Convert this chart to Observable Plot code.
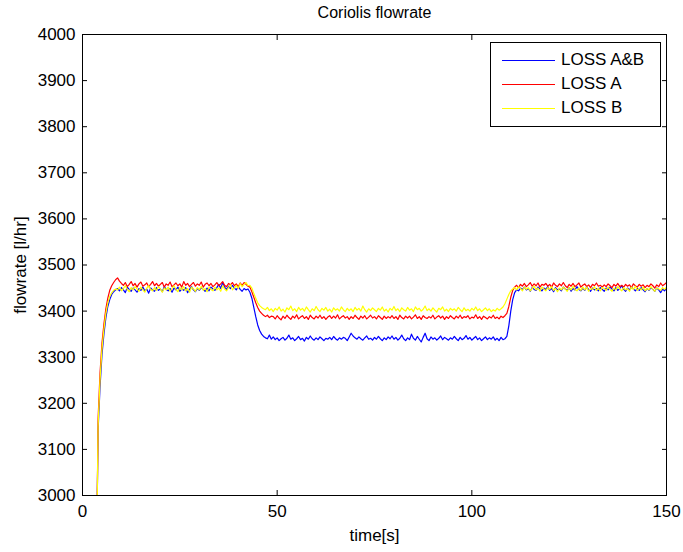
<!DOCTYPE html>
<html>
<head>
<meta charset="utf-8">
<script src="https://cdn.jsdelivr.net/npm/d3@7"></script>
<script src="https://cdn.jsdelivr.net/npm/@observablehq/plot@0.6"></script>
<style>
  html, body { margin: 0; padding: 0; background: #fff; }
  #wrap { position: relative; width: 683px; height: 552px; font-family: "Liberation Sans", Arial, sans-serif; }
  #legend { position: absolute; left: 490px; top: 42px; width: 169px; height: 83px; border: 1px solid #000; background: #fff; font-size: 17px; }
  .row { position: absolute; left: 0; height: 20px; }
  .sw { position: absolute; left: 11px; width: 53px; height: 0; border-top: 1px solid; top: 10px; }
  .lb { position: absolute; left: 70px; top: 0; line-height: 20px; white-space: nowrap; }
</style>
</head>
<body>
<div id="wrap"><div id="chart"></div>
<div id="legend"></div>
</div>
<script>
const titleText = "Coriolis flowrate";
const xLabel = "time[s]";
const yLabel = "flowrate [l/hr]";
const xTicks = [0, 50, 100, 150];
const yTicks = [3000, 3100, 3200, 3300, 3400, 3500, 3600, 3700, 3800, 3900, 4000];
const seriesNames = ["LOSS A&B", "LOSS A", "LOSS B"];
const seriesColors = ["#0000ff", "#ff0000", "#ffff00"];

// sample times: first sample at 3.8 s, then every 0.5 s from 4 s to 150 s
const times = [3.8, ...d3.range(4, 150.001, 0.5)];

const lossAB = [3000,
3140,3235,3305,3350,3385,3410,3425,3436,3442,3446,
3449,3444,3451,3446,3440,3452,3447,3443,3450,3446,
3441,3449,3445,3452,3444,3448,3439,3450,3446,3443,
3451,3445,3448,3442,3453,3447,3444,3449,3441,3450,
3446,3452,3443,3448,3445,3451,3440,3447,3453,3446,
3442,3449,3445,3451,3447,3443,3450,3444,3452,3448,
3445,3451,3458,3449,3462,3452,3447,3454,3449,3456,
3450,3446,3453,3447,3443,3449,3446,3448,3441,3428,
3408,3388,3370,3358,3350,3345,3342,3340,3348,3339,
3344,3338,3342,3336,3340,3343,3337,3341,3348,3339,
3342,3336,3340,3345,3338,3341,3335,3343,3339,3346,
3340,3337,3342,3338,3344,3340,3336,3341,3339,3343,
3338,3345,3340,3337,3342,3339,3343,3341,3336,3344,
3352,3346,3342,3339,3344,3340,3337,3342,3346,3339,
3341,3337,3343,3339,3345,3340,3336,3342,3338,3344,
3340,3346,3339,3343,3337,3341,3348,3340,3336,3342,
3338,3350,3341,3337,3345,3339,3333,3343,3352,3340,
3336,3344,3339,3342,3337,3341,3346,3338,3343,3340,
3337,3342,3339,3345,3340,3336,3343,3338,3341,3347,
3339,3343,3337,3341,3345,3338,3342,3336,3340,3344,
3338,3342,3339,3344,3337,3341,3336,3343,3338,3340,
3345,3368,3400,3425,3440,3446,3444,3450,3447,3452,
3446,3449,3443,3451,3447,3445,3452,3448,3444,3450,
3447,3453,3445,3449,3442,3451,3446,3448,3444,3452,
3448,3445,3451,3443,3449,3446,3453,3447,3444,3450,
3445,3452,3447,3443,3450,3446,3449,3444,3451,3447,
3443,3450,3446,3452,3448,3444,3451,3445,3449,3455,
3447,3443,3450,3446,3452,3448,3444,3449,3445,3451,
3446,3442,3449,3445,3451,3447,3443,3450,3446,3440,
3448,3444,3450];

const lossA = [3000,
3165,3265,3330,3372,3405,3428,3445,3455,3462,3468,
3472,3465,3460,3456,3462,3453,3458,3464,3455,3460,
3452,3459,3463,3454,3457,3461,3453,3458,3464,3455,
3460,3454,3458,3462,3452,3459,3456,3463,3453,3457,
3461,3455,3459,3452,3464,3456,3460,3453,3458,3462,
3454,3459,3456,3463,3452,3458,3461,3455,3460,3453,
3457,3462,3455,3459,3464,3456,3453,3460,3457,3462,
3455,3459,3453,3461,3456,3462,3458,3454,3452,3442,
3430,3418,3408,3400,3395,3391,3388,3391,3386,3389,
3388,3383,3390,3385,3381,3389,3384,3391,3386,3382,
3389,3385,3392,3383,3387,3390,3384,3388,3382,3391,
3386,3383,3389,3385,3391,3384,3388,3382,3387,3390,
3384,3389,3385,3392,3383,3387,3390,3385,3388,3382,
3388,3384,3391,3386,3382,3389,3385,3390,3383,3387,
3391,3385,3388,3383,3390,3386,3382,3389,3384,3388,
3385,3390,3384,3388,3382,3391,3386,3383,3389,3385,
3389,3383,3387,3392,3384,3388,3382,3390,3386,3384,
3388,3385,3391,3383,3387,3390,3385,3389,3382,3388,
3384,3390,3386,3383,3389,3385,3391,3384,3388,3386,
3390,3383,3387,3385,3392,3384,3388,3382,3389,3386,
3383,3388,3385,3391,3384,3387,3383,3389,3386,3390,
3395,3410,3430,3445,3452,3456,3451,3458,3454,3460,
3453,3457,3462,3454,3459,3455,3461,3452,3458,3456,
3460,3454,3458,3452,3461,3456,3453,3459,3455,3462,
3455,3451,3458,3454,3460,3453,3457,3461,3452,3456,
3459,3453,3457,3451,3458,3455,3461,3454,3456,3452,
3457,3453,3459,3455,3451,3458,3454,3460,3453,3456,
3452,3458,3454,3457,3451,3459,3455,3452,3458,3454,
3457,3451,3456,3453,3459,3455,3450,3457,3453,3461,
3455,3458,3462];

const lossB = [3000,
3150,3250,3318,3360,3395,3418,3432,3440,3445,3448,
3446,3452,3444,3449,3455,3447,3442,3451,3446,3453,
3448,3443,3452,3446,3441,3450,3455,3447,3444,3451,
3445,3453,3448,3441,3450,3446,3452,3443,3449,3455,
3447,3442,3451,3446,3453,3444,3449,3441,3452,3448,
3443,3451,3446,3454,3445,3449,3442,3452,3447,3444,
3452,3446,3450,3443,3455,3448,3444,3451,3457,3446,
3450,3456,3449,3460,3453,3458,3462,3455,3456,3450,
3438,3428,3418,3412,3408,3405,3403,3408,3401,3405,
3399,3406,3402,3409,3400,3404,3398,3407,3403,3411,
3401,3405,3399,3408,3402,3406,3400,3409,3403,3398,
3405,3401,3410,3403,3399,3406,3402,3408,3400,3404,
3398,3407,3402,3405,3400,3409,3403,3399,3406,3401,
3405,3399,3408,3402,3406,3400,3411,3403,3398,3405,
3401,3407,3403,3399,3406,3402,3409,3400,3404,3398,
3406,3402,3410,3401,3405,3399,3407,3403,3400,3408,
3402,3405,3399,3409,3403,3406,3400,3404,3411,3401,
3405,3400,3407,3402,3398,3406,3403,3409,3400,3404,
3399,3406,3402,3405,3400,3408,3403,3399,3407,3401,
3404,3400,3406,3402,3409,3401,3405,3399,3403,3407,
3401,3405,3399,3403,3400,3406,3402,3405,3409,3416,
3426,3436,3444,3448,3451,3446,3453,3449,3444,3452,
3447,3451,3444,3449,3454,3446,3450,3443,3452,3448,
3444,3451,3447,3453,3445,3449,3442,3450,3446,3452,
3448,3443,3451,3446,3454,3447,3444,3450,3445,3452,
3446,3452,3443,3449,3447,3453,3445,3450,3444,3451,
3449,3445,3452,3447,3443,3450,3446,3453,3448,3444,
3451,3446,3449,3443,3452,3447,3454,3445,3450,3446,
3452,3444,3449,3446,3453,3447,3443,3450,3448,3445,
3451,3447,3452];

const seriesValues = [lossAB, lossA, lossB];

const toRows = vals => times.map((t, i) => ({t, v: vals[i]})).filter(d => d.v !== undefined);

const lineMarks = seriesValues.map((vals, k) =>
  Plot.line(toRows(vals), {x: "t", y: "v", stroke: seriesColors[k], strokeWidth: 1.2})
);

const blank = () => "";

const chart = Plot.plot({
  width: 683,
  height: 552,
  marginLeft: 82,
  marginRight: 17,
  marginTop: 34,
  marginBottom: 57,
  style: {fontFamily: "'Liberation Sans', Arial, sans-serif", fontSize: "17px", color: "#000", background: "#fff", overflow: "visible"},
  x: {domain: [0, 150], label: null},
  y: {domain: [3000, 4000], label: null},
  marks: [
    ...lineMarks,
    Plot.frame({stroke: "#000", strokeWidth: 1}),
    Plot.axisX(xTicks, {anchor: "bottom", tickSize: 0, tickPadding: 9, label: null, fontSize: 17}),
    Plot.axisX(xTicks, {anchor: "bottom", tickSize: -5, tickFormat: blank, label: null}),
    Plot.axisX(xTicks, {anchor: "top", tickSize: -5, tickFormat: blank, label: null}),
    Plot.axisY(yTicks, {anchor: "left", tickSize: 0, tickPadding: 7, label: null, fontSize: 17, tickFormat: d => String(d)}),
    Plot.axisY(yTicks, {anchor: "left", tickSize: -5, tickFormat: blank, label: null}),
    Plot.axisY(yTicks, {anchor: "right", tickSize: -5, tickFormat: blank, label: null}),
    Plot.text([titleText], {text: d => d, frameAnchor: "top", lineAnchor: "middle", dy: -22, fontSize: 16}),
    Plot.text([xLabel], {text: d => d, frameAnchor: "bottom", lineAnchor: "middle", dy: 40, fontSize: 17}),
    Plot.text([yLabel], {text: d => d, frameAnchor: "left", textAnchor: "middle", lineAnchor: "middle", dx: -62, rotate: -90, fontSize: 17})
  ]
});
document.getElementById("chart").appendChild(chart);

const legend = document.getElementById("legend");
seriesNames.forEach((name, k) => {
  const row = document.createElement("div");
  row.className = "row";
  row.style.top = (7 + k * 24) + "px";
  row.style.width = "100%";
  const sw = document.createElement("div");
  sw.className = "sw";
  sw.style.borderTopColor = seriesColors[k];
  const lb = document.createElement("div");
  lb.className = "lb";
  lb.textContent = name;
  row.appendChild(sw);
  row.appendChild(lb);
  legend.appendChild(row);
});
</script>
</body>
</html>
